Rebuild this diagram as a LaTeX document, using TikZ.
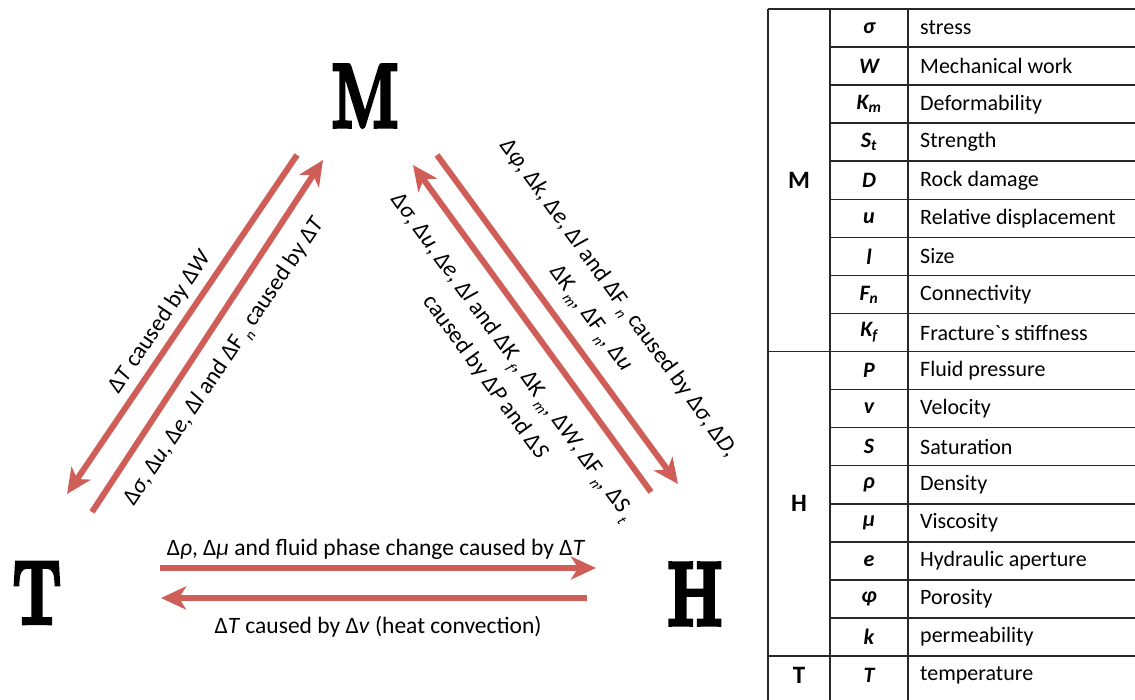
\documentclass[tikz,border=0pt]{standalone}
\usepackage{fontspec}
\setsansfont{Carlito}
\newfontfamily\plaintext{Carlito}
\newfontfamily\heavyserif{lmroman10-bold.otf}[FakeBold=4.5]
\usetikzlibrary{arrows.meta}

\definecolor{arrowred}{RGB}{208,94,88}
\definecolor{gridline}{RGB}{40,40,40}

% small lowered index used inside the rotated labels
\newcommand\lowsub[1]{\,\raisebox{-0.55ex}{\fontsize{15}{15}\selectfont\textit{#1}}}
% horizontally condensed heavy serif capital
\newcommand\bigglyph[1]{\scalebox{0.68}[1]{#1}}

\tikzset{
  bigletter/.style={inner sep=0pt, font=\heavyserif\fontsize{90}{90}\selectfont},
  flow/.style={draw=arrowred, line width=6pt,
    -{Stealth[length=25pt,width=23pt,inset=7pt]}},
  flowlabel/.style={inner sep=0pt, align=center,
    font=\sffamily\fontsize{23.5}{34}\selectfont},
  rule/.style={draw=gridline, line width=1.5pt},
  groupcell/.style={inner sep=0pt, font=\sffamily\bfseries\fontsize{25}{25}\selectfont},
  symcell/.style={inner sep=0pt, font=\sffamily\bfseries\itshape\fontsize{22}{22}\selectfont},
  desccell/.style={inner sep=0pt, anchor=west, font=\sffamily\fontsize{22}{22}\selectfont},
}

\begin{document}
\begin{tikzpicture}[x=1pt,y=-1pt]
\useasboundingbox (0,0) rectangle (1135,700);
\fill[white] (0,0) rectangle (1135,700);

% ---- the three field letters ----
\node[bigletter] (M) at (365,96) {\bigglyph{M}};
\node[bigletter] (T) at (37,593) {\bigglyph{T}};
\node[bigletter] (H) at (695,594) {\bigglyph{H}};

% ---- arrow end points ----
\coordinate (mtA) at (297,155);
\coordinate (mtB) at (67,494);
\coordinate (tmA) at (92,512);
\coordinate (tmB) at (323,160);
\coordinate (hmA) at (651,492);
\coordinate (hmB) at (413,165);
\coordinate (mhA) at (437,155);
\coordinate (mhB) at (678,484);
\coordinate (thA) at (160,568);
\coordinate (thB) at (596,568);
\coordinate (htA) at (587,598);
\coordinate (htB) at (161,598);

\draw[flow] (mtA) -- (mtB);
\draw[flow] (tmA) -- (tmB);
\draw[flow] (hmA) -- (hmB);
\draw[flow] (mhA) -- (mhB);
\draw[flow] (thA) -- (thB);
\draw[flow] (htA) -- (htB);

% ---- coupling labels ----
\node[flowlabel, rotate=56] (lab1) at (160,322)
  {Δ\textit{T} caused by Δ\textit{W}};
\node[flowlabel, rotate=56] (lab2) at (225,362)
  {Δ\textit{σ}, Δ\textit{u}, Δ\textit{e}, Δ\textit{l} and ΔF\lowsub{n} caused by Δ\textit{T}};
\node[flowlabel, rotate=-54] (lab3) at (604,309)
  {Δ\textit{φ}, Δ\textit{k}, Δ\textit{e}, Δ\textit{l} and ΔF\lowsub{n} caused by Δ\textit{σ}, Δ\textit{D},\\
   ΔK\lowsub{m}, ΔF\lowsub{n}, Δ\textit{u}};
\node[flowlabel, rotate=-54] (lab4) at (499,367)
  {Δ\textit{σ}, Δ\textit{u}, Δ\textit{e}, Δ\textit{l} and ΔK\lowsub{f}, ΔK\lowsub{m}, Δ\textit{W}, ΔF\lowsub{n}, ΔS\lowsub{t}\\
   caused by Δ\textit{P} and Δ\textit{S}};
\node[flowlabel] (lab5) at (376,549)
  {Δ\textit{ρ}, Δ\textit{μ} and fluid phase change caused by Δ\textit{T}};
\node[flowlabel] (lab6) at (378,627)
  {Δ\textit{T} caused by Δ\textit{v} (heat convection)};

% ---- variable table ----
\draw[rule] (768,9) -- (768,701);
\draw[rule] (830,9) -- (830,701);
\draw[rule] (908,9) -- (908,701);
\foreach \k in {0,9,17}
  \draw[rule] (768,{9+38.06*\k}) -- (1136,{9+38.06*\k});
\foreach \k in {1,...,8,10,11,...,16}
  \draw[rule] (830,{9+38.06*\k}) -- (1136,{9+38.06*\k});

\node[groupcell] (gM) at (799,{9+38.06*4.5}) {M};
\node[groupcell] (gH) at (799,{9+38.06*13}) {H};
\node[groupcell] (gT) at (799,{9+38.06*17.5}) {T};

\foreach \sym/\desc [count=\i] in {
  σ/stress, W/Mechanical work, {K\textsubscript{m}}/Deformability,
  {S\textsubscript{t}}/Strength, D/Rock damage, u/Relative displacement,
  l/Size, {F\textsubscript{n}}/Connectivity, {K\textsubscript{f}}/{\plaintext Fracture`s stiffness},
  P/Fluid pressure, v/Velocity, S/Saturation, ρ/Density, μ/Viscosity,
  e/Hydraulic aperture, φ/Porosity, k/permeability, T/temperature} {
  \node[symcell] (sym\i) at (869,{9+38.06*(\i-0.5)}) {\sym};
  \node[desccell] (desc\i) at (920,{9+38.06*(\i-0.5)}) {\desc};
}
\end{tikzpicture}
\end{document}
